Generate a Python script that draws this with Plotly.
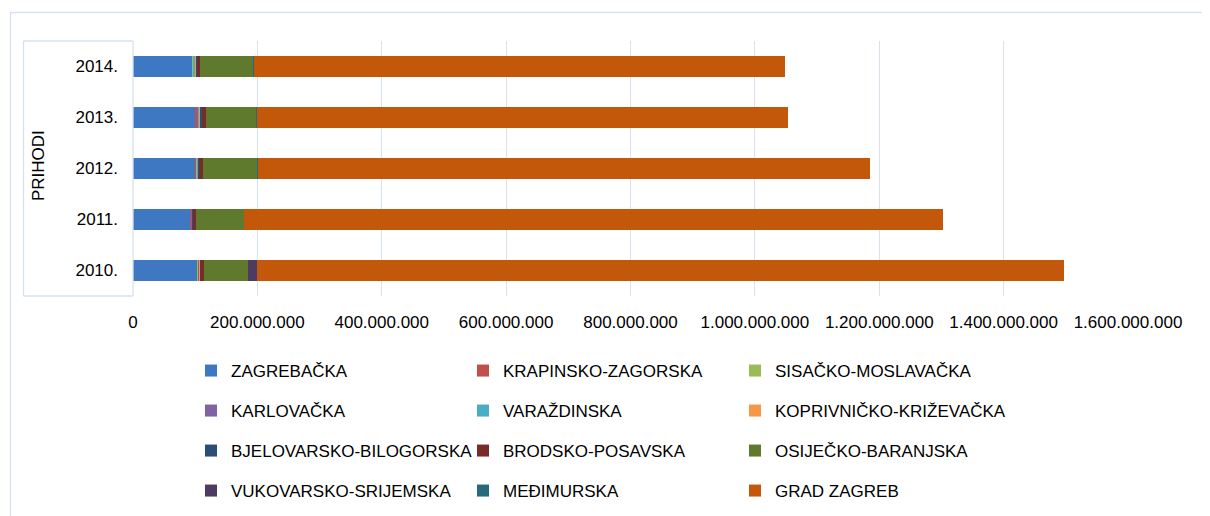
import plotly.graph_objects as go

years = ["2010.", "2011.", "2012.", "2013.", "2014."]

series_names = [
    "ZAGREBAČKA", "KRAPINSKO-ZAGORSKA", "SISAČKO-MOSLAVAČKA",
    "KARLOVAČKA", "VARAŽDINSKA", "KOPRIVNIČKO-KRIŽEVAČKA",
    "BJELOVARSKO-BILOGORSKA", "BRODSKO-POSAVSKA", "OSIJEČKO-BARANJSKA",
    "VUKOVARSKO-SRIJEMSKA", "MEĐIMURSKA", "GRAD ZAGREB",
]

zagrebacka = [103e6, 92e6, 101e6, 101e6, 95e6]
krapinsko = [1.2e6, 1.5e6, 1.5e6, 2.0e6, 1.0e6]
sisacko = [1.5e6, 1.2e6, 0.5e6, 0.8e6, 1.5e6]
karlovacka = [0.5e6, 0.5e6, 0.4e6, 0.8e6, 0.5e6]
varazdinska = [0.8e6, 0.5e6, 1.2e6, 2.5e6, 2.5e6]
koprivnicko = [0.9e6, 0.6e6, 0.5e6, 1.0e6, 0.8e6]
bjelovarsko = [0.5e6, 0.5e6, 0.3e6, 2.4e6, 2.0e6]
brodsko = [6.5e6, 4.8e6, 6.4e6, 6.5e6, 4.5e6]
osijecko = [70e6, 77e6, 88e6, 82e6, 86e6]
vukovarsko = [14.5e6, 0.3e6, 0.3e6, 0.3e6, 0.3e6]
medimurska = [0.3e6, 0.3e6, 0.3e6, 0.3e6, 0.3e6]
grad_zagreb = [1297e6, 1123e6, 985e6, 854e6, 854e6]

series_values = [
    zagrebacka, krapinsko, sisacko, karlovacka, varazdinska, koprivnicko,
    bjelovarsko, brodsko, osijecko, vukovarsko, medimurska, grad_zagreb,
]

colors = [
    "#3F78C2", "#C0504D", "#9BBB59", "#8064A2", "#4BACC6", "#F79646",
    "#2C4D75", "#772C2A", "#5F7A2C", "#4D3B62", "#276A7C", "#C4580A",
]

x_ticks = [0, 200e6, 400e6, 600e6, 800e6, 1000e6, 1200e6, 1400e6, 1600e6]

FONT = "Liberation Sans, Arial, sans-serif"
FS = 17

# page offset (body margin) and plot area in page px
OFF = 8
W, H = 1210 - OFF, 516 - OFF
L, R, T, B = 133 - OFF, 1128 - OFF, 41 - OFF, 296 - OFF
pw, ph = R - L, B - T


def px_x(xpage):
    return (xpage - OFF - L) / pw


def px_y(ypage):
    return (B - (ypage - OFF)) / ph


fig = go.Figure()
for i, (name, vals, col) in enumerate(zip(series_names, series_values, colors)):
    leg = "legend" if i // 3 == 0 else f"legend{i // 3 + 1}"
    fig.add_trace(go.Bar(
        y=years, x=vals, name=name, orientation="h",
        marker=dict(color=col, line=dict(width=0)),
        legend=leg,
    ))

row_y = [371, 411, 451, 491]
legend_common = dict(
    orientation="h", xanchor="left", yanchor="middle",
    entrywidth=227, entrywidthmode="pixels",
    font=dict(family=FONT, size=FS, color="#000000"),
    bgcolor="rgba(0,0,0,0)", itemclick=False, itemdoubleclick=False,
    traceorder="normal",
)
legends = {}
for r, yy in enumerate(row_y):
    key = "legend" if r == 0 else f"legend{r + 1}"
    legends[key] = dict(legend_common, x=px_x(191), y=px_y(yy))

grid_col = "#D6E2F1"
shapes = [
    # outer chart border
    dict(type="rect", xref="paper", yref="paper",
         x0=px_x(10.5), x1=px_x(1215), y0=px_y(12.5), y1=px_y(520),
         line=dict(color=grid_col, width=1.3), layer="below"),
    # category label box
    dict(type="line", xref="paper", yref="paper",
         x0=px_x(23.5), x1=px_x(23.5), y0=0, y1=1,
         line=dict(color=grid_col, width=1.3)),
    dict(type="line", xref="paper", yref="paper",
         x0=px_x(23.5), x1=0, y0=1, y1=1,
         line=dict(color=grid_col, width=1.3)),
    dict(type="line", xref="paper", yref="paper",
         x0=px_x(23.5), x1=0, y0=0, y1=0,
         line=dict(color=grid_col, width=1.3)),
    dict(type="line", xref="paper", yref="paper",
         x0=0, x1=0, y0=0, y1=1,
         line=dict(color=grid_col, width=1.3)),
]

fig.update_layout(
    width=W, height=H,
    margin=dict(l=L, r=W - R, t=T, b=H - B, pad=0, autoexpand=False),
    barmode="stack", bargap=0.59,
    plot_bgcolor="white", paper_bgcolor="white",
    separators=",.",
    showlegend=True,
    shapes=shapes,
    font=dict(family=FONT, size=FS, color="#000000"),
    annotations=[dict(
        text="PRIHODI", xref="paper", yref="paper",
        x=px_x(38), y=px_y(166), textangle=-90, showarrow=False,
        font=dict(family=FONT, size=FS, color="#000000"),
        xanchor="center", yanchor="middle",
    )],
    **legends,
)

fig.update_xaxes(
    range=[0, 1.6e9], tickvals=x_ticks, tickformat=",d",
    showgrid=True, gridcolor=grid_col, gridwidth=1.3,
    zeroline=False, showline=False, ticks="",
    ticklabelstandoff=14, automargin=False,
    tickfont=dict(family=FONT, size=FS, color="#000000"),
    fixedrange=True,
)
fig.update_yaxes(
    type="category", categoryorder="array", categoryarray=years,
    showgrid=False, showline=False, ticks="",
    ticklabelstandoff=14, automargin=False,
    tickfont=dict(family=FONT, size=FS, color="#000000"),
    fixedrange=True,
)

fig.write_html("out.html")
